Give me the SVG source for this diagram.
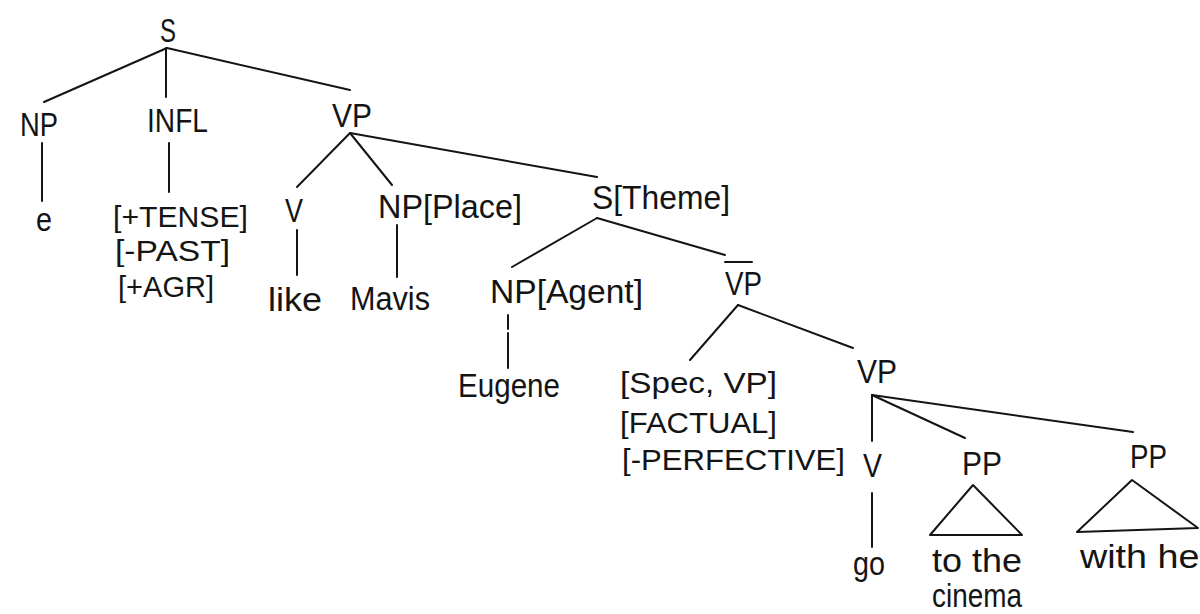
<svg xmlns="http://www.w3.org/2000/svg" width="1200" height="614" viewBox="0 0 1200 614">
  <style>
    text { font-family: "Liberation Sans", Arial, sans-serif; font-size: 33px; fill: #141414; }
    text.feat { font-size: 29px; }
    .edge { stroke: #141414; stroke-width: 2; fill: none; stroke-linecap: round; }
    .tri { stroke: #141414; stroke-width: 2; fill: none; stroke-linejoin: round; }
  </style>
  <rect width="1200" height="614" fill="#ffffff"/>

  <!-- branches of the tree -->
  <g id="connectors">
    <line class="edge" x1="167" y1="48" x2="44" y2="102"/>
    <line class="edge" x1="166" y1="48" x2="166" y2="97"/>
    <line class="edge" x1="167" y1="48" x2="350" y2="90"/>
    <line class="edge" x1="42" y1="143" x2="42" y2="201"/>
    <line class="edge" x1="169" y1="143" x2="169" y2="192"/>
    <line class="edge" x1="350" y1="133" x2="297" y2="187"/>
    <line class="edge" x1="350" y1="133" x2="392" y2="185"/>
    <line class="edge" x1="350" y1="133" x2="597" y2="177"/>
    <line class="edge" x1="297" y1="230" x2="297" y2="275"/>
    <line class="edge" x1="397" y1="225" x2="397" y2="277"/>
    <line class="edge" x1="597" y1="218" x2="512" y2="267"/>
    <line class="edge" x1="597" y1="218" x2="725" y2="255"/>
    <line class="edge" x1="508" y1="315" x2="508" y2="368" stroke-dasharray="14 4 30 0"/>
    <line class="edge" x1="738" y1="305" x2="690" y2="360"/>
    <line class="edge" x1="738" y1="305" x2="853" y2="348"/>
    <line class="edge" x1="872" y1="395" x2="872" y2="441"/>
    <line class="edge" x1="872" y1="493" x2="872" y2="547"/>
    <line class="edge" x1="872" y1="395" x2="965" y2="438"/>
    <line class="edge" x1="872" y1="395" x2="1133" y2="432"/>
  </g>

  <g id="n-s"><text x="160" y="42" textLength="16" lengthAdjust="spacingAndGlyphs">S</text></g>
  <g id="n-np-subj"><text x="20" y="136" textLength="38" lengthAdjust="spacingAndGlyphs">NP</text></g>
  <g id="n-e"><text x="36" y="231" textLength="16" lengthAdjust="spacingAndGlyphs">e</text></g>
  <g id="n-infl"><text x="147" y="132" textLength="61" lengthAdjust="spacingAndGlyphs">INFL</text></g>
  <g id="n-infl-features">
    <text class="feat" x="113" y="227" textLength="135" lengthAdjust="spacingAndGlyphs">[+TENSE]</text>
    <text class="feat" x="115" y="261" textLength="115" lengthAdjust="spacingAndGlyphs">[-PAST]</text>
    <text class="feat" x="118" y="297" textLength="96" lengthAdjust="spacingAndGlyphs">[+AGR]</text>
  </g>
  <g id="n-vp"><text x="332" y="127" textLength="40" lengthAdjust="spacingAndGlyphs">VP</text></g>
  <g id="n-v"><text x="285" y="222" textLength="18" lengthAdjust="spacingAndGlyphs">V</text></g>
  <g id="n-like"><text x="268" y="311" textLength="54" lengthAdjust="spacingAndGlyphs">like</text></g>
  <g id="n-np-place"><text x="378" y="218" textLength="144" lengthAdjust="spacingAndGlyphs">NP[Place]</text></g>
  <g id="n-mavis"><text x="350" y="310" textLength="80" lengthAdjust="spacingAndGlyphs">Mavis</text></g>
  <g id="n-s-theme"><text x="592" y="209" textLength="138" lengthAdjust="spacingAndGlyphs">S[Theme]</text></g>
  <g id="n-np-agent"><text x="490" y="303" textLength="153" lengthAdjust="spacingAndGlyphs">NP[Agent]</text></g>
  <g id="n-eugene"><text x="458" y="397" textLength="102" lengthAdjust="spacingAndGlyphs">Eugene</text></g>
  <g id="n-vp-bar">
    <line class="edge" x1="725" y1="262" x2="752" y2="262"/>
    <text x="725" y="295" textLength="37" lengthAdjust="spacingAndGlyphs">VP</text>
  </g>
  <g id="n-spec-vp">
    <text class="feat" x="620" y="393" textLength="157" lengthAdjust="spacingAndGlyphs">[Spec, VP]</text>
    <text class="feat" x="620" y="433" textLength="157" lengthAdjust="spacingAndGlyphs">[FACTUAL]</text>
    <text class="feat" x="622" y="470" textLength="223" lengthAdjust="spacingAndGlyphs">[-PERFECTIVE]</text>
  </g>
  <g id="n-vp-lower"><text x="857" y="383" textLength="40" lengthAdjust="spacingAndGlyphs">VP</text></g>
  <g id="n-v-lower"><text x="863" y="477" textLength="19" lengthAdjust="spacingAndGlyphs">V</text></g>
  <g id="n-go"><text x="853" y="575" textLength="32" lengthAdjust="spacingAndGlyphs">go</text></g>
  <g id="n-pp1">
    <text x="962" y="475" textLength="40" lengthAdjust="spacingAndGlyphs">PP</text>
    <polygon class="tri" points="973,485 930,535 1022,535"/>
    <text x="932" y="572" textLength="90" lengthAdjust="spacingAndGlyphs">to the</text>
    <text x="932" y="607" textLength="90" lengthAdjust="spacingAndGlyphs">cinema</text>
  </g>
  <g id="n-pp2">
    <text x="1130" y="468" textLength="37" lengthAdjust="spacingAndGlyphs">PP</text>
    <polygon class="tri" points="1132,480 1077,532 1198,528"/>
    <text x="1080" y="568" textLength="132" lengthAdjust="spacingAndGlyphs">with her</text>
  </g>
</svg>
